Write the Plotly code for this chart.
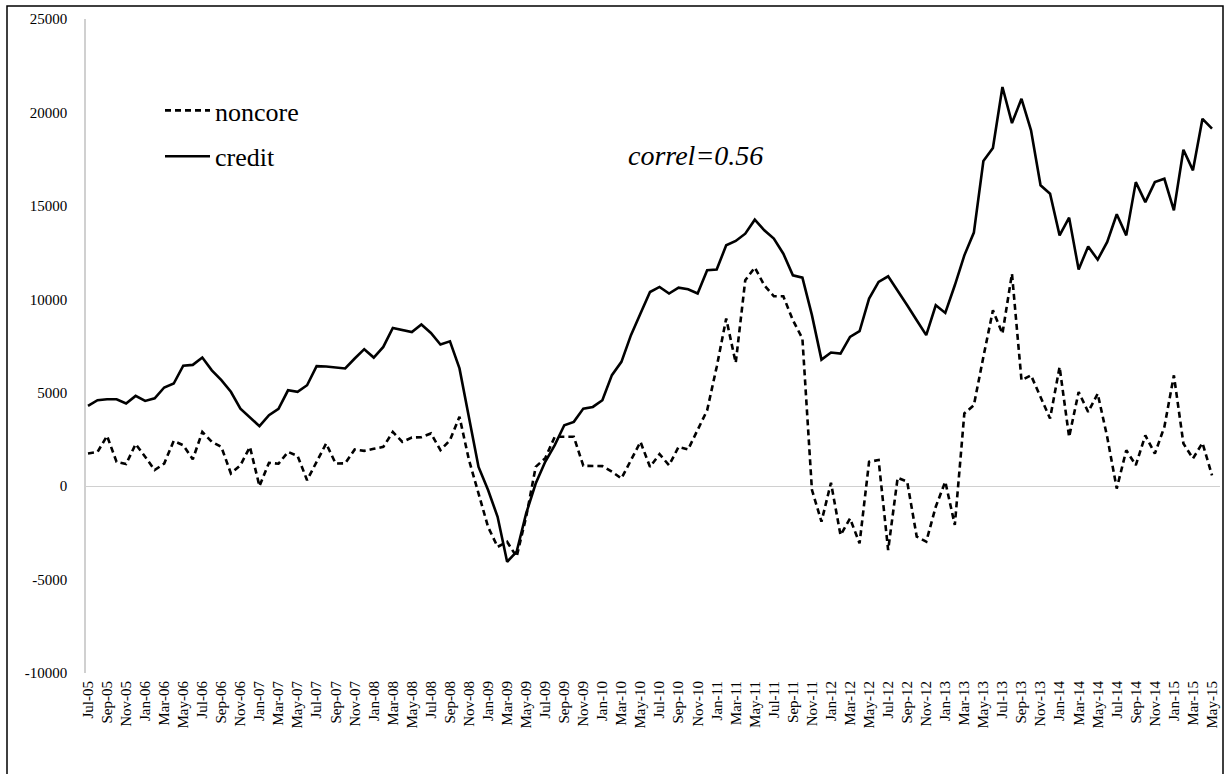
import plotly.graph_objects as go

months = ["Jan", "Feb", "Mar", "Apr", "May", "Jun", "Jul", "Aug", "Sep", "Oct", "Nov", "Dec"]
# monthly categories Jul-05 .. May-15
dates = []
m, y = 6, 5
while True:
    dates.append(f"{months[m]}-{y:02d}")
    if m == 4 and y == 15:
        break
    m += 1
    if m == 12:
        m, y = 0, y + 1

credit = [4300, 4600, 4650, 4650, 4420, 4830, 4560, 4700, 5280, 5490,
          6450, 6490, 6880, 6200, 5670, 5050, 4150, 3670, 3210, 3800,
          4140, 5130, 5050, 5400, 6420, 6400, 6350, 6300, 6830, 7330,
          6880, 7450, 8470, 8380, 8250, 8650, 8200, 7580, 7750, 6300,
          3700, 1030, -210, -1640, -4050, -3510, -1460, 140, 1300, 2200,
          3260, 3440, 4150, 4240, 4600, 5940, 6650, 8080, 9240, 10390,
          10660, 10310, 10620, 10540, 10310, 11550, 11590, 12890, 13120, 13510,
          14260, 13690, 13250, 12440, 11280, 11160, 9150, 6770, 7150, 7090,
          7990, 8290, 10040, 10930, 11230, 10480, 9680, 8880, 8080, 9680,
          9270, 10750, 12350, 13570, 17400, 18100, 21360, 19430, 20730, 19040,
          16100, 15650, 13420, 14370, 11590, 12830, 12120, 13070, 14550, 13420,
          16270, 15200, 16270, 16450, 14760, 18000, 16900, 19660, 19130]

noncore = [1750, 1830, 2690, 1300, 1180, 2250, 1570, 860, 1210, 2420,
           2190, 1440, 2900, 2370, 2100, 680, 1120, 2100, 0, 1250,
           1200, 1830, 1620, 320, 1300, 2280, 1210, 1220, 1960, 1890,
           2000, 2100, 2900, 2370, 2600, 2620, 2820, 1930, 2460, 3710,
           1390, -390, -2180, -3250, -2980, -3780, -1640, 1030, 1500, 2640,
           2640, 2640, 1090, 1090, 1070, 770, 410, 1390, 2370, 1030,
           1710, 1120, 2100, 1960, 3000, 4060, 6380, 8970, 6600, 11020,
           11700, 10750, 10160, 10160, 8880, 7900, -200, -1900, 180, -2620,
           -1730, -3060, 1300, 1400, -3420, 450, 240, -2700, -2970, -1100,
           240, -2080, 3890, 4330, 6920, 9410, 8160, 11370, 5670, 5930,
           4770, 3620, 6380, 2630, 5040, 3970, 4950, 2630, -130, 1920,
           1120, 2720, 1740, 3170, 5930, 2280, 1480, 2310, 580]

ytick_vals = [-10000, -5000, 0, 5000, 10000, 15000, 20000, 25000]
ytick_text = ["-10000", "-5000", "0", "5000", "10000", "15000", "20000", "25000"]

x_idx = list(range(len(dates)))
tick_idx = x_idx[::2]
tick_txt = dates[::2]

FONT = "Liberation Serif, Times New Roman, serif"

fig = go.Figure()
fig.add_trace(go.Scatter(x=x_idx, y=noncore, mode="lines", name="noncore",
                         legendgroup="a",
                         line=dict(color="black", width=2.6, dash="6px,4px")))
fig.add_trace(go.Scatter(x=x_idx, y=credit, mode="lines", name="credit",
                         legendgroup="b",
                         line=dict(color="black", width=2.6)))

W, H = 1229, 774
L, R, T, B = 86, 1220, 19, 673
step = 1124 / 118
r0 = (L - 88) / step
r1 = r0 + (R - L) / step

def px_to_paper_x(px):
    return (px - L) / (R - L)

def px_to_paper_y(py):
    return (B - py) / (B - T)

fig.update_layout(
    width=W, height=H,
    margin=dict(l=L, r=W - R, t=T, b=H - B, autoexpand=False),
    paper_bgcolor="white", plot_bgcolor="white",
    font=dict(family=FONT, color="black"),
    showlegend=True,
    legend=dict(x=px_to_paper_x(160), y=px_to_paper_y(87), xanchor="left", yanchor="top",
                bgcolor="rgba(0,0,0,0)", font=dict(size=26, family=FONT),
                tracegroupgap=9, itemwidth=45),
    xaxis=dict(range=[r0, r1], tickmode="array", tickvals=tick_idx, ticktext=tick_txt,
               tickangle=-90, showgrid=False, zeroline=False, showline=False,
               ticks="", ticklabelstandoff=4, automargin=False,
               tickfont=dict(size=15, family=FONT)),
    yaxis=dict(range=[-10000, 25000], tickmode="array", tickvals=ytick_vals,
               ticktext=ytick_text, automargin=False,
               showgrid=False, zeroline=True, zerolinecolor="#d0d0d0", zerolinewidth=1,
               showline=True, linecolor="#d0d0d0", linewidth=1.5,
               ticks="", ticklabelstandoff=14, tickfont=dict(size=15, family=FONT)),
    annotations=[dict(x=63.8, y=17700, xref="x", yref="y", text="<i>correl=0.56</i>",
                      showarrow=False, font=dict(size=28, family=FONT))],
    shapes=[dict(type="rect", xref="paper", yref="paper",
                 x0=px_to_paper_x(7), x1=px_to_paper_x(1223),
                 y0=px_to_paper_y(778), y1=px_to_paper_y(6),
                 line=dict(color="black", width=1.5), fillcolor="rgba(0,0,0,0)")],
)

fig.write_html("out.html", config={"displayModeBar": False},
               post_script="document.body.style.margin='0';document.body.style.overflow='hidden';")
